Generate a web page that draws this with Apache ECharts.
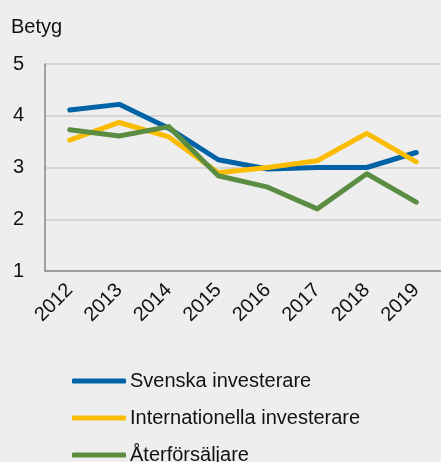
<!DOCTYPE html>
<html><head><meta charset="utf-8">
<script src="https://cdn.jsdelivr.net/npm/echarts@6/dist/echarts.min.js"></script>
<style>html,body{margin:0;padding:0;background:#eeeeee;}#c{width:441px;height:462px;}</style>
</head><body><div id="c"></div>
<script>
const years = ['2012','2013','2014','2015','2016','2017','2018','2019'];
const svenska = [4.11, 4.22, 3.76, 3.15, 2.97, 3.0, 3.0, 3.29];
const internationella = [3.53, 3.87, 3.59, 2.90, 3.0, 3.13, 3.66, 3.11];
const aterforsaljare = [3.73, 3.61, 3.79, 2.84, 2.62, 2.20, 2.88, 2.33];
const names = ['Svenska investerare','Internationella investerare','Återförsäljare'];
const colors = ['#0063a6','#fbbc00','#5a8c41'];
const font = '"Liberation Sans", Arial, sans-serif';
const chart = echarts.init(document.getElementById('c'));
const mk = (n, d, c) => ({name:n, type:'line', data:d, symbol:'none', lineStyle:{color:c, width:5, cap:'round', join:'round'}, itemStyle:{color:c}, z: 2});
const legendTops = [366, 403, 440];
chart.setOption({
  backgroundColor:'#eeeeee',
  animation:false,
  textStyle:{fontFamily:font},
  title:{text:'Betyg', left:6, top:12, textStyle:{fontFamily:font, fontSize:20, fontWeight:'normal', color:'#111'}},
  grid:{left:45, right:-6, top:64, height:207},
  legend: names.map((n, i) => ({orient:'vertical', left:67, top:legendTops[i], itemWidth:54, itemHeight:5, icon:'roundRect',
    textStyle:{fontFamily:font, fontSize:20, color:'#111', padding:[0,0,0,-1]},
    data:[n]})),
  xAxis:{type:'category', data:years, boundaryGap:true,
    axisLine:{lineStyle:{color:'#888', width:1.5}}, axisTick:{show:false},
    axisLabel:{rotate:45, fontSize:20, color:'#111', margin:16, fontFamily:font}},
  yAxis:{type:'value', min:1, max:5, interval:1,
    axisLine:{show:true, lineStyle:{color:'#888', width:1.5}}, axisTick:{show:false},
    splitLine:{lineStyle:{color:'#cccccc', width:1.5}},
    axisLabel:{fontSize:20, color:'#111', margin:21, fontFamily:font}},
  series:[mk(names[0], svenska, colors[0]), mk(names[1], internationella, colors[1]), mk(names[2], aterforsaljare, colors[2])]
});
</script></body></html>
